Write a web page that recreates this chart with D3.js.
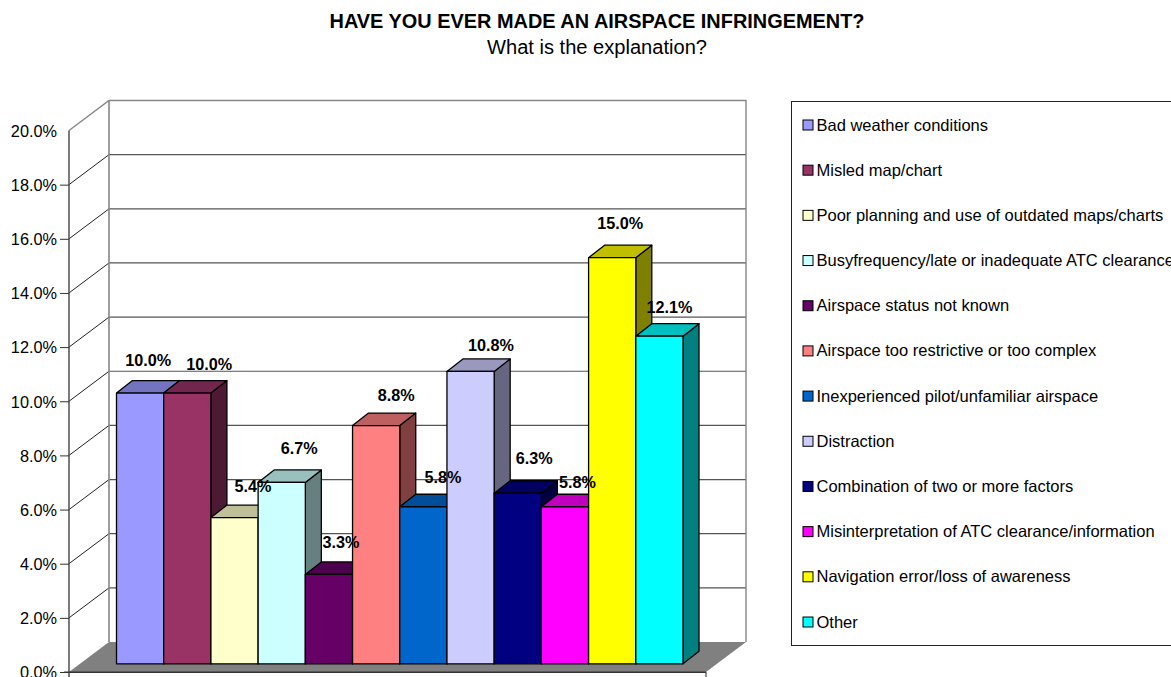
<!DOCTYPE html>
<html><head><meta charset="utf-8">
<script src="https://cdn.jsdelivr.net/npm/d3@7/dist/d3.min.js"></script>
<style>html,body{margin:0;padding:0;background:#fff;overflow:hidden}svg{display:block}text{font-family:"Liberation Sans",Arial,sans-serif;fill:#000}</style>
</head><body><svg id="c" width="1171" height="677"></svg>
<script>
const categories=["Bad weather conditions","Misled map/chart","Poor planning and use of outdated maps/charts","Busyfrequency/late or inadequate ATC clearance","Airspace status not known","Airspace too restrictive or too complex","Inexperienced pilot/unfamiliar airspace","Distraction","Combination of two or more factors","Misinterpretation of ATC clearance/information","Navigation error/loss of awareness","Other"];
const values=[10.0,10.0,5.4,6.7,3.3,8.8,5.8,10.8,6.3,5.8,15.0,12.1];
const colors=["#9999FF","#993366","#FFFFCC","#CCFFFF","#660066","#FF8080","#0066CC","#CCCCFF","#000080","#FF00FF","#FFFF00","#00FFFF"];
const ticks=[0,2,4,6,8,10,12,14,16,18,20];
const labelDx=[8,22,18.5,17.5,12,20,19.5,20.5,16.5,12.5,8,10];
const labelDy=[33,29,31,34,32,30.5,29,26,35,24,34,29];

const svg=d3.select("#c");
const W={x0:69,x1:706,dx:40,dy:30}, G={dx:16,dy:12.5};
const y=d3.scaleLinear().domain([0,20]).range([672,130.5]);
const yBar=d3.scaleLinear().domain([0,20]).range([663.8,122.3]);
const x=d3.scaleBand().domain(categories).range([116.5,683]);
const poly=p=>p.map(a=>a.join(",")).join(" ");

// title
svg.append("text").attr("x",597).attr("y",28).attr("text-anchor","middle").attr("font-size",20).attr("font-weight","bold").text("HAVE YOU EVER MADE AN AIRSPACE INFRINGEMENT?").attr("textLength",535).attr("lengthAdjust","spacingAndGlyphs");
svg.append("text").attr("x",597).attr("y",54).attr("text-anchor","middle").attr("font-size",20).text("What is the explanation?").attr("textLength",220).attr("lengthAdjust","spacingAndGlyphs");

// walls
const gray="#868686";
svg.append("polygon").attr("points",poly([[W.x0,y(0)],[W.x1,y(0)],[W.x1+W.dx,y(0)-W.dy],[W.x0+W.dx,y(0)-W.dy]])).attr("fill","#808080").attr("stroke","none");
const grid=svg.append("g");
ticks.forEach(t=>{
  if(t>0&&t<20) grid.append("line").attr("x1",W.x0+W.dx).attr("x2",W.x1+W.dx).attr("y1",y(t)-W.dy).attr("y2",y(t)-W.dy).attr("stroke","#555").attr("stroke-width",1.2);
  if(t>0&&t<20) grid.append("line").attr("x1",W.x0).attr("x2",W.x0+W.dx).attr("y1",y(t)).attr("y2",y(t)-W.dy).attr("stroke","#222").attr("stroke-width",1);
});
grid.append("path").attr("d",`M${W.x0},${y(20)}L${W.x0+W.dx},${y(20)-W.dy}H${W.x1+W.dx}V${y(0)-W.dy}`).attr("fill","none").attr("stroke",gray).attr("stroke-width",1.4);
grid.append("line").attr("x1",W.x0+W.dx).attr("x2",W.x0+W.dx).attr("y1",y(20)-W.dy).attr("y2",y(0)-W.dy).attr("stroke",gray).attr("stroke-width",1.6);

// axes
const axisY=d3.axisLeft(y).tickValues(ticks).tickFormat(d=>d3.format(".1f")(d)+"%").tickSize(9).tickPadding(3);
const ga=svg.append("g").attr("transform",`translate(${W.x0},0)`).call(axisY);
ga.selectAll("text").attr("font-size",16.3).attr("fill","#000").attr("dy","0.36em").style("font-family",'"Liberation Sans",Arial,sans-serif');
ga.selectAll("line").attr("stroke","#333").attr("stroke-width",1).filter(d=>d===20).remove();
ga.select(".domain").attr("stroke","#444").attr("stroke-width",1.4).attr("d",`M0,${y(20)}V${y(0)+5}`);
svg.append("line").attr("x1",W.x0-5).attr("x2",W.x1).attr("y1",y(0)+.3).attr("y2",y(0)+.3).attr("stroke","#333").attr("stroke-width",1.6);
svg.append("line").attr("x1",W.x1).attr("x2",W.x1).attr("y1",y(0)).attr("y2",y(0)+5).attr("stroke","#444").attr("stroke-width",1.2);

// bars
const bars=svg.append("g").selectAll("g").data(categories).join("g");
bars.each(function(c,i){
  const g=d3.select(this),l=x(c),r=l+x.bandwidth(),t=yBar(values[i]),b=yBar(0),col=d3.color(colors[i]);
  const shade=f=>d3.rgb(col.r*f,col.g*f,col.b*f).formatHex();
  const st={stroke:"#000","stroke-width":1.3,"stroke-linejoin":"round"};
  const add=(pts,f)=>{const p=g.append("polygon").attr("points",poly(pts)).attr("fill",f);Object.entries(st).forEach(([k,v])=>p.attr(k,v));};
  add([[r,t],[r+G.dx,t-G.dy],[r+G.dx,b-G.dy],[r,b]],shade(.5));
  add([[l,t],[l+G.dx,t-G.dy],[r+G.dx,t-G.dy],[r,t]],shade(.75));
  add([[l,t],[r,t],[r,b],[l,b]],colors[i]);
});

// data labels
svg.append("g").selectAll("text").data(categories).join("text")
 .attr("x",(c,i)=>x(c)+x.bandwidth()/2+labelDx[i])
 .attr("y",(c,i)=>yBar(values[i])-labelDy[i]+5.5)
 .attr("text-anchor","middle").attr("font-size",16.2).attr("font-weight","bold")
 .text((c,i)=>d3.format(".1f")(values[i])+"%");

// legend
svg.append("rect").attr("x",791.5).attr("y",101.5).attr("width",420).attr("height",544).attr("fill","#fff").attr("stroke","#222").attr("stroke-width",1);
const ly=d3.scalePoint().domain(categories).range([125,622]);
const lg=svg.append("g").selectAll("g").data(categories).join("g").attr("transform",c=>`translate(0,${ly(c)})`);
lg.append("rect").attr("x",803).attr("y",-5).attr("width",10).attr("height",10).attr("fill",(c,i)=>colors[i]).attr("stroke","#000").attr("stroke-width",1);
lg.append("text").attr("x",816.5).attr("y",5.5).attr("font-size",16.5).text(c=>c);
</script></body></html>
